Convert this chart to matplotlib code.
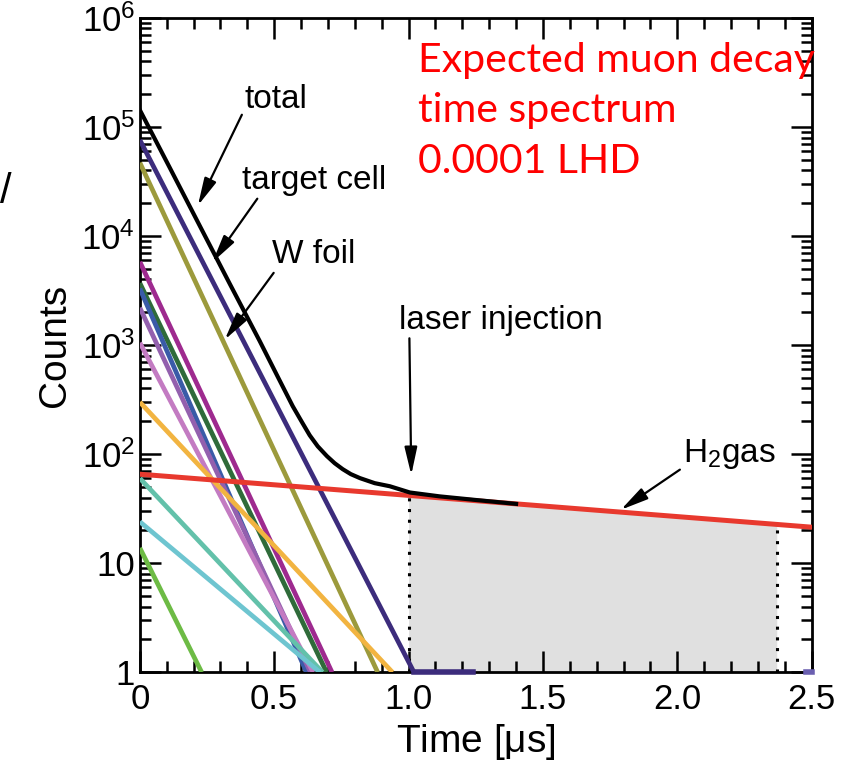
import numpy as np
import matplotlib
matplotlib.use("Agg")
import matplotlib.pyplot as plt
from matplotlib.ticker import FixedLocator, FixedFormatter, MultipleLocator

plt.rcParams['font.family'] = ['Liberation Sans', 'DejaVu Sans']
plt.rcParams['mathtext.fontset'] = 'custom'
plt.rcParams['mathtext.rm'] = 'Liberation Sans'

# component decays: start count at t=0 and time where it reaches 1 count
comp_names = ["target cell", "W foil", "magenta", "dark green", "blue", "orchid",
              "light orchid", "orange", "teal", "light teal", "lime"]
comp_start = [7.6e4, 4.7e4, 5.8e3, 3.7e3, 3.3e3, 2.2e3, 1.05e3, 300, 60, 24, 13.8]
comp_end_t = [1.02, 0.885, 0.715, 0.695, 0.62, 0.635, 0.645, 0.94, 0.68, 0.67, 0.23]
comp_colors = ["#3C2C7C", "#9C9A3C", "#9E2A8F", "#2F6B3A", "#3A5BA8", "#9360AE",
               "#C37BC2", "#F2B441", "#63C1AA", "#6EC5D0", "#6DBB45"]

# total spectrum
total_t = [0.0, 0.112, 0.223, 0.335, 0.446, 0.510, 0.569, 0.603, 0.632, 0.662, 0.696,
           0.725, 0.755, 0.785, 0.819, 0.874, 0.930, 1.005, 1.116, 1.250, 1.400]
total_n = [1.43e5, 4.2e4, 1.24e4, 3.63e3, 1089, 531, 275, 197, 149, 118, 96,
           82.6, 72.8, 65.6, 60.3, 54.2, 50.8, 44.5, 41.0, 38.0, 35.0]

# H2 gas
h2_t = [0.0, 2.5]
h2_n = [65.5, 21.4]

# measurement window (grey)
win_t = [1.0, 2.37]
win_top = [41.9, 22.7]

fig = plt.figure(figsize=(8.58, 7.79), dpi=100)
ax = fig.add_axes([0.163, 0.137, 0.783, 0.840])

ax.fill_between(win_t, [1, 1], win_top, color="#E0E0E0", lw=0, zorder=1)
ax.vlines(win_t, [1, 1], win_top, colors="black", linestyles=(0, (1, 2.5)), lw=2.2, zorder=2)

for s, e, c in zip(comp_start, comp_end_t, comp_colors):
    ax.plot([0, e], [s, 1], color=c, lw=3.4, solid_capstyle='butt', zorder=3)
# target cell continues along the bottom
ax.plot([comp_end_t[0], 1.24], [1, 1], color=comp_colors[0], lw=4, clip_on=False, zorder=6)
ax.plot([2.48, 2.5], [1, 1], color="#6A5FB0", lw=4, clip_on=False, zorder=6)

ax.plot(h2_t, h2_n, color="#E8392E", lw=3.6, zorder=4)
ax.plot(total_t, total_n, color="black", lw=3.0, zorder=5, solid_joinstyle='round')

ax.set_yscale('log')
ax.set_xlim(0, 2.5)
ax.set_ylim(1, 1e6)

ax.yaxis.set_major_locator(FixedLocator([1, 10, 1e2, 1e3, 1e4, 1e5, 1e6]))
ax.yaxis.set_major_formatter(FixedFormatter(["1", "10", "$\\mathregular{10^2}$", "$\\mathregular{10^3}$",
                                             "$\\mathregular{10^4}$", "$\\mathregular{10^5}$",
                                             "$\\mathregular{10^6}$"]))
ax.yaxis.set_minor_locator(matplotlib.ticker.LogLocator(base=10, subs=np.arange(2, 10)))
ax.yaxis.set_minor_formatter(matplotlib.ticker.NullFormatter())
ax.xaxis.set_minor_locator(MultipleLocator(0.1))
ax.set_xticks([0, 0.5, 1.0, 1.5, 2.0, 2.5])
ax.set_xticklabels(["0", "0.5", "1.0", "1.5", "2.0", "2.5"])

ax.tick_params(which='both', direction='in', top=True, right=True, width=1.8, labelsize=25)
ax.tick_params(which='major', length=15)
ax.tick_params(which='minor', length=8)
ax.tick_params(axis='x', pad=8)
for sp in ax.spines.values():
    sp.set_linewidth(2)

ax.set_xlabel("Time [$\\mathregular{\\mu}$s]", fontsize=28, labelpad=4)
ax.set_ylabel("Counts", fontsize=28, labelpad=6)

arr = dict(arrowstyle='-|>,head_length=0.7,head_width=0.16', color='black', lw=1.6, shrinkA=0, shrinkB=0)
ax.annotate("total", xy=(0.216, 10**4.28), xytext=(0.39, 10**5.25), fontsize=24,
            va='center', ha='left', arrowprops=dict(arr, relpos=(0.0, 0.2)))
ax.annotate("target cell", xy=(0.27, 10**3.76), xytext=(0.38, 10**4.51), fontsize=24,
            va='center', ha='left', arrowprops=dict(arr, relpos=(0.12, 0.0)))
ax.annotate("W foil", xy=(0.316, 10**3.05), xytext=(0.49, 10**3.83), fontsize=24,
            va='center', ha='left', arrowprops=dict(arr, relpos=(0.05, 0.0)))
ax.annotate("laser injection", xy=(1.01, 10**1.81), xytext=(0.965, 10**3.23), fontsize=24,
            va='center', ha='left', arrowprops=dict(arr, relpos=(0.05, 0.0)))
ax.annotate("$\\mathregular{H_2}$gas", xy=(1.79, 10**1.49), xytext=(2.02, 10**2.0), fontsize=24,
            va='center', ha='left', arrowprops=dict(arr, relpos=(0.0, 0.1)))

red_lines = ["Expected muon decay", "time spectrum", "0.0001 LHD"]
red_base = [72, 122, 173]
for txt, yb in zip(red_lines, red_base):
    fig.text(418 / 858, 1 - yb / 779, txt, color="#FF0000", fontsize=29.5, family="Lato",
             va='baseline', ha='left')

fig.text(0.0, 1 - 192 / 779, "/", fontsize=30, va='center', ha='left')

fig.savefig("out.png", dpi=100)
